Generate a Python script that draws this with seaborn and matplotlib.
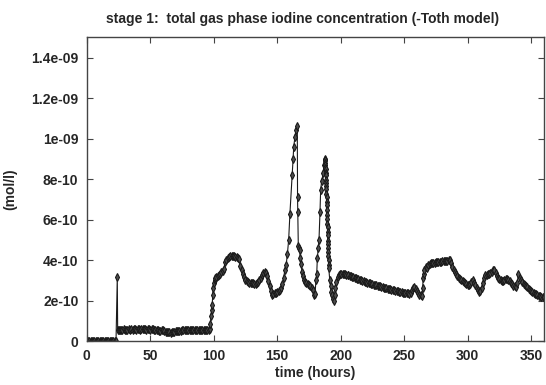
import matplotlib
matplotlib.use("Agg")
import matplotlib.pyplot as plt
import seaborn as sns
import pandas as pd

# Total gas phase iodine concentration, stage 1 (-Toth model)
hours = (
    list(range(0, 24))
    + [24.0, 24.3]
    + list(range(25, 97))
    + [97.0, 97.4, 97.8, 98.3, 98.8, 99.2, 99.6, 100.0, 100.6, 101.3]
    + list(range(102, 161))
    + [161.8, 162.5, 163.0, 164.0, 164.8, 165.8, 166.0, 166.2, 166.6, 167.1,
       167.6, 168.2, 168.9, 169.5, 170.3]
    + list(range(171, 179))
    + [179.0, 179.8, 180.5, 181.1, 181.6, 182.3, 182.9, 183.7, 184.2, 185.0,
       186.3, 186.9, 187.5,
       187.6, 187.7, 187.8, 187.9, 188.0, 188.1, 188.2, 188.3, 188.4, 188.5,
       188.6, 188.7, 188.8, 188.9, 189.0, 189.1, 189.2, 189.3, 189.4, 189.5,
       189.6, 189.7, 189.8, 189.9, 190.0, 190.1, 190.2, 190.3, 190.4, 190.5,
       190.6,
       191.4, 192.0, 192.7, 193.4, 194.0, 194.7, 195.2, 195.8, 196.6, 197.6,
       198.5, 199.5, 200.5, 201.5, 202.5, 203.5, 204.5, 205.5]
    + list(range(206, 264))
    + [264.0, 264.5, 265.0, 265.5]
    + list(range(266, 361))
)

# concentration in units of 1e-10 mol/l
conc_e10 = (
    [0.0] * 24
    + [3.15, 0.55]
    # 25 .. 96
    + [0.56, 0.57, 0.56, 0.57, 0.58, 0.57, 0.56, 0.57, 0.58, 0.57,
       0.58, 0.57, 0.58, 0.58, 0.57, 0.58, 0.58, 0.57, 0.58, 0.59,
       0.58, 0.58, 0.57, 0.58, 0.58, 0.57, 0.58, 0.58, 0.57, 0.57,
       0.56, 0.53, 0.51, 0.52, 0.54, 0.53, 0.50, 0.47, 0.45, 0.44,
       0.43, 0.42, 0.43, 0.44, 0.46, 0.48, 0.49, 0.50, 0.51, 0.52,
       0.53, 0.53, 0.54, 0.55, 0.54, 0.55, 0.56, 0.55, 0.56, 0.57,
       0.56, 0.55, 0.56, 0.57, 0.56, 0.55, 0.56, 0.57, 0.56, 0.55,
       0.56, 0.56]
    # 97.0 .. 101.3
    + [0.60, 0.85, 1.25, 1.55, 1.80, 2.30, 2.60, 2.85, 3.00, 3.10]
    # 102 .. 160
    + [3.15, 3.20, 3.25, 3.30, 3.40, 3.45, 3.55, 3.90, 4.00, 4.10,
       4.15, 4.18, 4.20, 4.20, 4.19, 4.17, 4.15, 4.10, 4.05, 3.70,
       3.50, 3.30, 3.15, 3.00, 2.95, 2.90, 2.88, 2.87, 2.86, 2.85,
       2.83, 2.82, 2.85, 2.90, 3.00, 3.10, 3.25, 3.38, 3.42, 3.35,
       3.20, 2.95, 2.70, 2.45, 2.30, 2.33, 2.38, 2.40, 2.42, 2.45,
       2.50, 2.60, 2.80, 3.10, 3.50, 3.75, 4.30, 5.00, 6.30]
    # 161.8 .. 170.3
    + [8.20, 9.00, 9.60, 10.10, 10.40, 10.64, 7.10, 6.40, 4.70, 4.60,
       4.50, 4.10, 3.80, 3.40, 3.20]
    # 171 .. 178
    + [3.00, 2.90, 2.85, 2.80, 2.75, 2.70, 2.60, 2.50]
    # 179.0 .. 205.5
    + [2.30, 2.35, 3.00, 3.30, 4.10, 4.60, 5.00, 6.40, 7.46, 7.90,
       8.30, 8.70, 9.00,
       8.95, 8.92, 8.80, 8.72, 8.55, 8.50, 8.28, 8.22, 7.96, 7.82,
       7.66, 7.52, 7.28, 7.12, 6.86, 6.72, 6.46, 6.22, 6.02, 5.76,
       5.62, 5.38, 5.22, 4.96, 4.82, 4.58, 4.42, 4.18, 4.02, 3.78,
       3.60,
       3.00, 2.70, 2.44, 2.30, 2.10, 2.00, 2.30, 2.60, 2.90, 3.15,
       3.25, 3.30, 3.30, 3.32, 3.30, 3.30, 3.28, 3.27]
    # 206 .. 263
    + [3.25, 3.23, 3.20, 3.18, 3.16, 3.13, 3.10, 3.08, 3.05, 3.02,
       3.00, 2.98, 2.95, 2.93, 2.91, 2.89, 2.87, 2.85, 2.83, 2.81,
       2.79, 2.77, 2.76, 2.74, 2.72, 2.70, 2.68, 2.66, 2.64, 2.62,
       2.60, 2.58, 2.57, 2.55, 2.53, 2.52, 2.50, 2.48, 2.47, 2.46,
       2.44, 2.43, 2.42, 2.40, 2.39, 2.38, 2.37, 2.36, 2.35, 2.40,
       2.50, 2.60, 2.67, 2.55, 2.45, 2.38, 2.30, 2.26]
    # 264.0 .. 265.5
    + [2.25, 2.60, 3.10, 3.30]
    # 266 .. 360
    + [3.50, 3.65, 3.60, 3.75, 3.80, 3.85, 3.88, 3.86, 3.88, 3.90,
       3.91, 3.92, 3.92, 3.93, 3.94, 3.95, 3.96, 3.97, 3.98, 3.99,
       4.00, 3.85, 3.65, 3.50, 3.40, 3.30, 3.20, 3.12, 3.05, 3.00,
       2.95, 2.90, 2.85, 2.80, 2.77, 2.76, 2.82, 2.90, 3.00, 2.88,
       2.75, 2.62, 2.50, 2.43, 2.45, 2.60, 2.85, 3.10, 3.25, 3.27,
       3.30, 3.32, 3.35, 3.40, 3.50, 3.52, 3.35, 3.20, 3.10, 3.05,
       3.00, 2.98, 2.98, 3.00, 3.05, 3.08, 3.00, 2.95, 2.88, 2.80,
       2.74, 2.70, 2.67, 2.85, 3.33, 3.10, 3.00, 2.90, 2.84, 2.78,
       2.70, 2.65, 2.58, 2.52, 2.47, 2.42, 2.38, 2.34, 2.31, 2.28,
       2.25, 2.22, 2.20, 2.18, 2.16]
)

y_ticks = [0, 2e-10, 4e-10, 6e-10, 8e-10, 1e-09, 1.2e-09, 1.4e-09]
y_tick_labels = ["0", "2e-10", "4e-10", "6e-10", "8e-10", "1e-09", "1.2e-09", "1.4e-09"]
x_ticks = [0, 50, 100, 150, 200, 250, 300, 350]

df = pd.DataFrame({"time": hours, "conc": [c * 1e-10 for c in conc_e10]})

sns.set_style("ticks")
plt.rcParams["font.family"] = ["Liberation Sans", "DejaVu Sans"]
plt.rcParams["font.weight"] = "bold"

fig = plt.figure(figsize=(5.46, 3.85), dpi=100)
ax = fig.add_axes([0.159, 0.114, 0.837, 0.789])

sns.lineplot(data=df, x="time", y="conc", ax=ax, estimator=None, sort=False,
             color="#1a1a1a", linewidth=0.8, marker="d", markersize=4,
             markerfacecolor="#4d4d4d", markeredgecolor="#1a1a1a",
             markeredgewidth=0.8)

ax.set_xlim(0, 360)
ax.set_ylim(0, 1.5e-09)
ax.set_xticks(x_ticks)
ax.set_yticks(y_ticks)
ax.set_yticklabels(y_tick_labels)
ax.tick_params(direction="in", length=4, width=0.8, color="#444444",
               top=True, right=True, labelsize=10, pad=6)
for lbl in ax.get_xticklabels() + ax.get_yticklabels():
    lbl.set_fontweight("bold")
for sp in ax.spines.values():
    sp.set_visible(True)
    sp.set_color("#444444")
    sp.set_linewidth(1.0)

ax.set_xlabel("time (hours)", fontsize=10, fontweight="bold", labelpad=2)
ax.set_ylabel("(mol/l)", fontsize=10, fontweight="bold")
ax.yaxis.set_label_coords(-0.153, 0.5)
ax.set_title("stage 1:  total gas phase iodine concentration (-Toth model)",
             fontsize=10, fontweight="bold", pad=10, x=0.473)

fig.savefig("out.png", dpi=100)
